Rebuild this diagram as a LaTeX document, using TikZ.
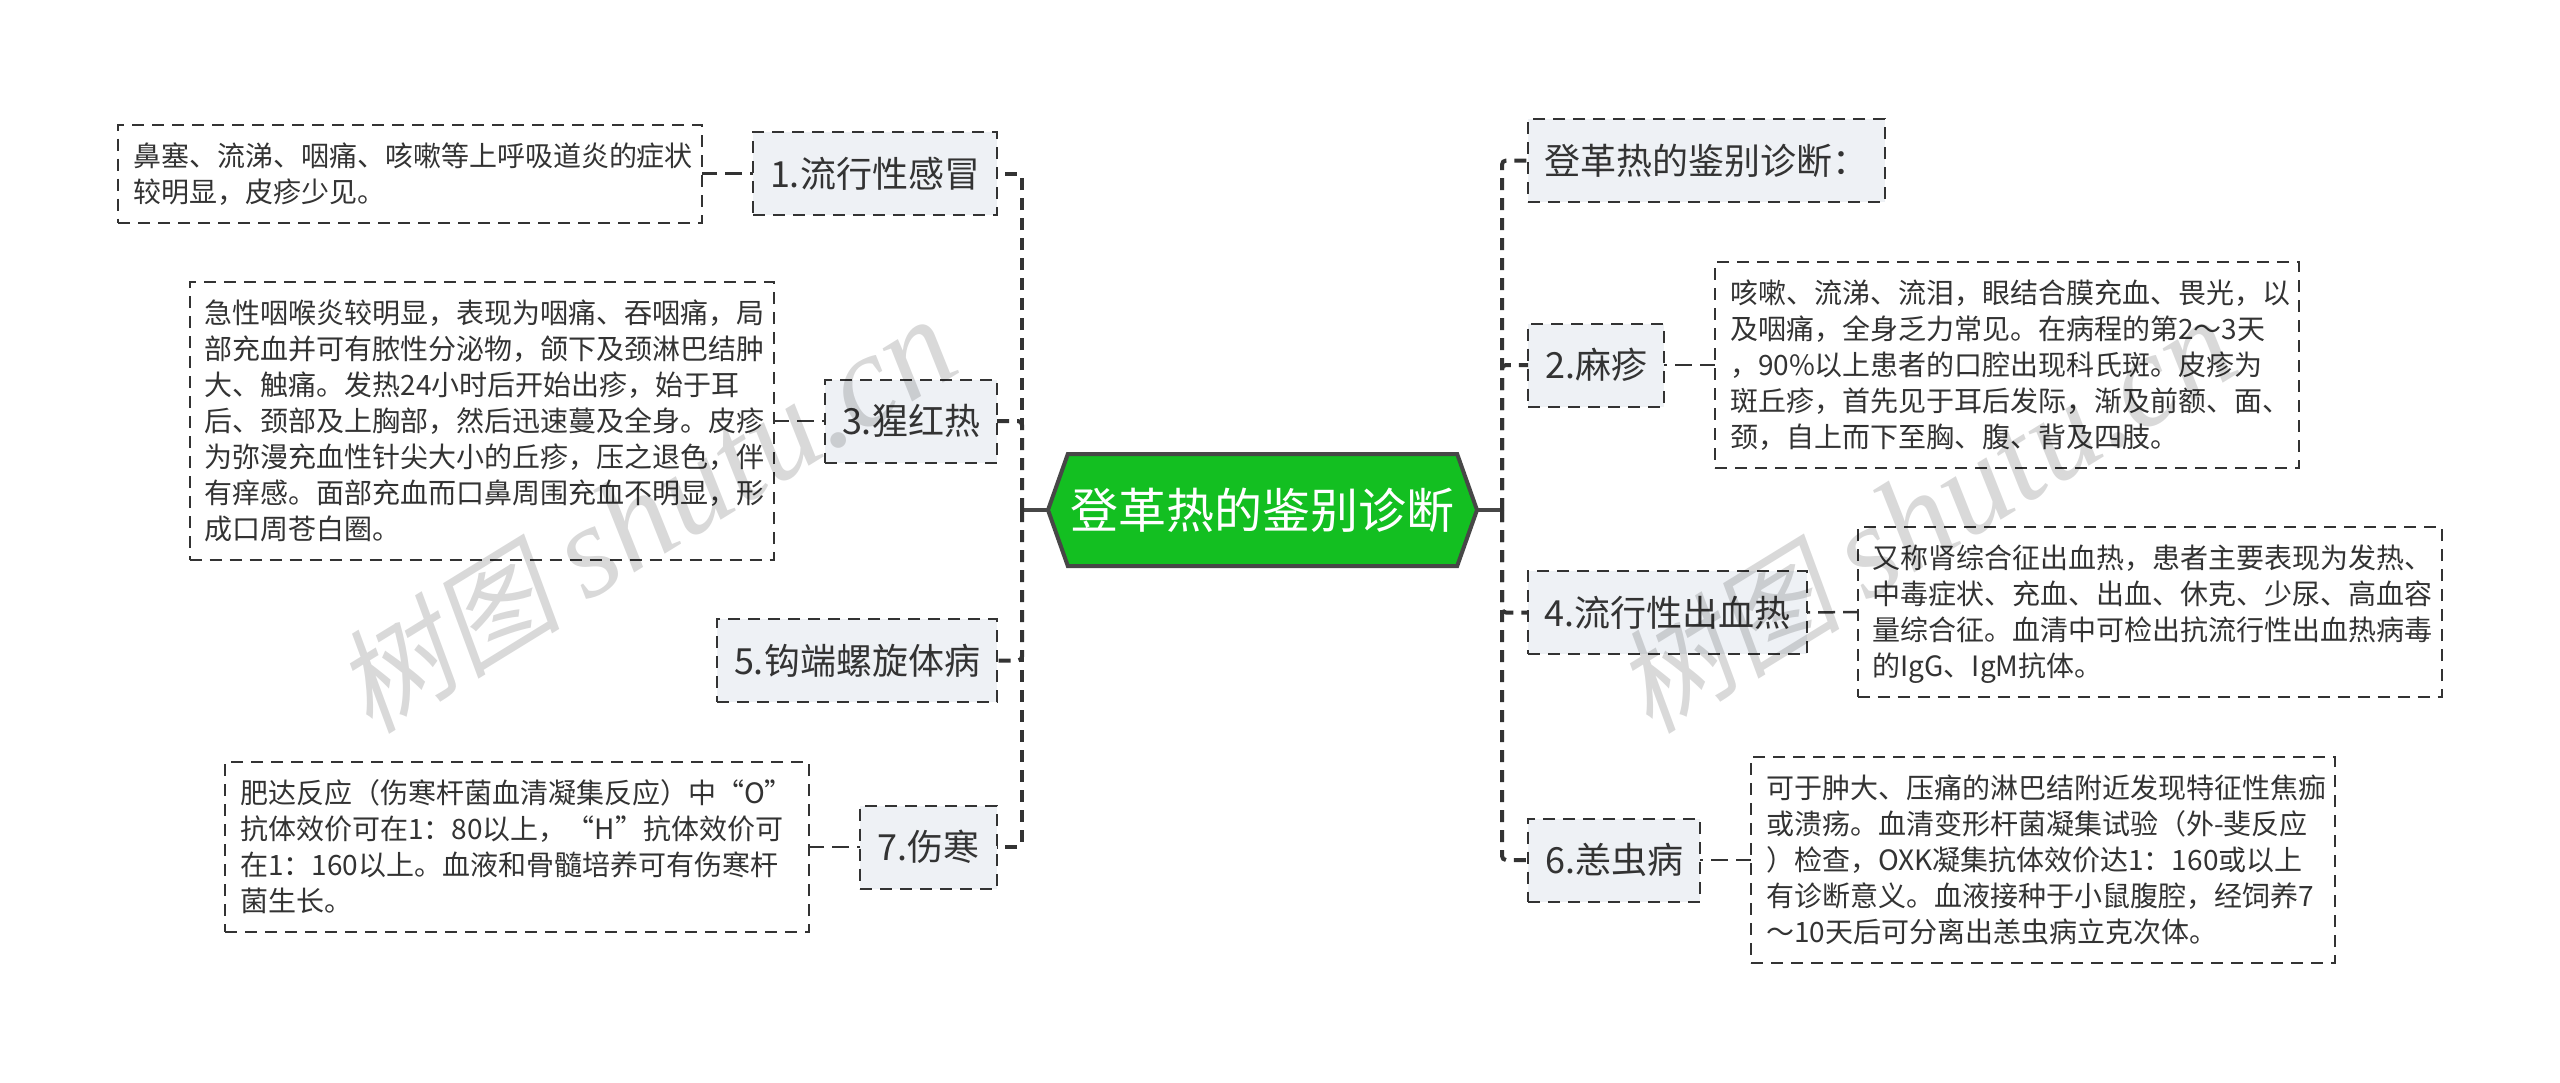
\documentclass[tikz,border=0pt]{standalone}
\usepackage{fontspec}
\setmainfont{Noto Sans CJK SC}
\newfontfamily\markcjk[FakeSlant=0.2]{Noto Sans CJK SC}
\newfontfamily\marklatin{Liberation Serif}
\usetikzlibrary{shapes.symbols}
\definecolor{inkgray}{HTML}{333333}
\definecolor{boxgray}{HTML}{EEF1F5}
\definecolor{rootgreen}{HTML}{13BF21}
\tikzset{
	leaf/.style={draw=inkgray, line width=1pt, dash pattern=on 6pt off 4pt, text=inkgray, text width=277pt, align=left, inner xsep=7.5pt, inner ysep=6.5pt, outer sep=0pt, font=\fontsize{14}{18}\selectfont, execute at begin node={\rule{0pt}{14.3pt}}, execute at end node={\rule[-3.7pt]{0pt}{3.7pt}}},
	disease/.style={draw=inkgray, fill=boxgray, line width=1pt, dash pattern=on 6pt off 4pt, text=inkgray, minimum height=41.5pt, inner sep=0pt, outer sep=0pt, font=\fontsize{18}{22}\selectfont},
	branch/.style={draw=inkgray, line width=2pt, dash pattern=on 6pt off 4pt, rounded corners=2pt},
	leaflink/.style={draw=inkgray, line width=1.25pt, dash pattern=on 8.5pt off 4pt, dash phase=7pt},
	stub/.style={draw=inkgray!90, line width=2pt},
	watermark/.style={text=black, text opacity=0.15, rotate=31.6, inner sep=0pt, font=\fontsize{57}{60}\selectfont}
}

\begin{document}
\begin{tikzpicture}[x=0.5pt, y=-0.5pt]
	%%%%% START %%%%%
	\useasboundingbox (0, 0) rectangle (2560, 1082);

	\node[signal, signal to=west and east, signal pointer angle=141, draw=inkgray!90, fill=rootgreen, line width=2pt, text=white, minimum width=214.5pt, minimum height=56pt, inner sep=0pt, outer sep=0pt, font=\fontsize{24}{28}\selectfont] (root) at (1262.5, 510) {登革热的鉴别诊断};

	\coordinate (lefttrunk) at (1022, 510);
	\coordinate (righttrunk) at (1502, 510);

	% left side
	\node[disease, minimum width=122pt] (flu) at (875, 173.5) {1.流行性感冒};
	\node[disease, minimum width=86pt] (scarlet) at (911, 421) {3.猩红热};
	\node[disease, minimum width=140pt] (lepto) at (857, 660.5) {5.钩端螺旋体病};
	\node[disease, minimum width=68.5pt] (typhoid) at (928.5, 847) {7.伤寒};

	\node[leaf] (fluleaf) at (410, 173.5) {鼻塞、流涕、咽痛、咳嗽等上呼吸道炎的症状\\较明显，皮疹少见。};
	\node[leaf] (scarletleaf) at (481.5, 421) {急性咽喉炎较明显，表现为咽痛、吞咽痛，局\\部充血并可有脓性分泌物，颌下及颈淋巴结肿\\大、触痛。发热24小时后开始出疹，始于耳\\后、颈部及上胸部，然后迅速蔓及全身。皮疹\\为弥漫充血性针尖大小的丘疹，压之退色，伴\\有痒感。面部充血而口鼻周围充血不明显，形\\成口周苍白圈。};
	\node[leaf] (typhoidleaf) at (517, 847) {肥达反应（伤寒杆菌血清凝集反应）中“O”\\抗体效价可在1：80以上，“H”抗体效价可\\在1：160以上。血液和骨髓培养可有伤寒杆\\菌生长。};

	% right side
	\node[disease, minimum width=178.5pt] (title) at (1706.5, 160.5) {登革热的鉴别诊断：};
	\node[disease, minimum width=68pt] (measles) at (1596, 365) {2.麻疹};
	\node[disease, minimum width=139.5pt] (hemo) at (1667.5, 612.5) {4.流行性出血热};
	\node[disease, minimum width=86pt] (tsutsu) at (1614, 860) {6.恙虫病};

	\node[leaf] (measlesleaf) at (2007, 365) {咳嗽、流涕、流泪，眼结合膜充血、畏光，以\\及咽痛，全身乏力常见。在病程的第2～3天\\，90\%以上患者的口腔出现科氏斑。皮疹为\\斑丘疹，首先见于耳后发际，渐及前额、面、\\颈，自上而下至胸、腹、背及四肢。};
	\node[leaf] (hemoleaf) at (2149.5, 612) {又称肾综合征出血热，患者主要表现为发热、\\中毒症状、充血、出血、休克、少尿、高血容\\量综合征。血清中可检出抗流行性出血热病毒\\的IgG、IgM抗体。};
	\node[leaf] (tsutsuleaf) at (2043, 860) {可于肿大、压痛的淋巴结附近发现特征性焦痂\\或溃疡。血清变形杆菌凝集试验（外-斐反应\\）检查，OXK凝集抗体效价达1：160或以上\\有诊断意义。血液接种于小鼠腹腔，经饲养7\\～10天后可分离出恙虫病立克次体。};

	% root to trunks
	\draw[stub] (root.west) -- (lefttrunk);
	\draw[stub] (root.east) -- (righttrunk);

	\draw[branch] (lefttrunk) |- (flu.east);
	\draw[branch] (lefttrunk) |- (scarlet.east);
	\draw[branch] (lefttrunk) |- (lepto.east);
	\draw[branch] (lefttrunk) |- (typhoid.east);

	\draw[branch] (righttrunk) |- (title.west);
	\draw[branch] (righttrunk) |- (measles.west);
	\draw[branch] (righttrunk) |- (hemo.west);
	\draw[branch] (righttrunk) |- (tsutsu.west);

	% to the text boxes
	\draw[leaflink] (flu.west) -- (fluleaf.east);
	\draw[leaflink] (scarlet.west) -- (scarletleaf.east);
	\draw[leaflink] (typhoid.west) -- (typhoidleaf.east);
	\draw[leaflink] (measles.east) -- (measlesleaf.west);
	\draw[leaflink] (hemo.east) -- (hemoleaf.west);
	\draw[leaflink] (tsutsu.east) -- (tsutsuleaf.west);

	% site mark over everything
	\node[watermark] (markleft) at (645, 516) {{\markcjk 树图} {\marklatin\fontsize{66}{70}\selectfont\itshape shutu.cn}};
	\node[watermark] (markright) at (1925, 516) {{\markcjk 树图} {\marklatin\fontsize{66}{70}\selectfont\itshape shutu.cn}};
	%%%%% END %%%%%
\end{tikzpicture}
\end{document}
